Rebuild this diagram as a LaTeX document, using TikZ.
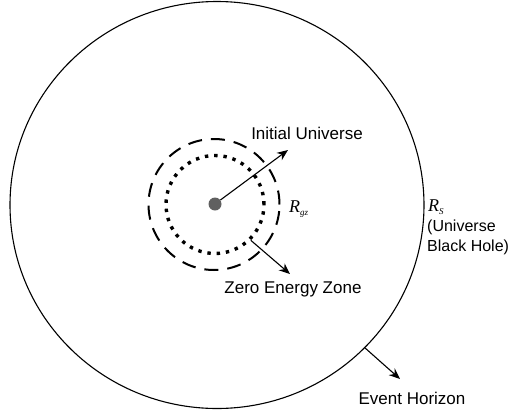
\documentclass[tikz,border=0pt]{standalone}
\usepackage{fontspec}
\setmainfont{Liberation Sans}
\newfontfamily\myserif{Liberation Serif}
\usetikzlibrary{arrows.meta,shapes.geometric}
\definecolor{dotgray}{HTML}{606060}
\begin{document}
\begin{tikzpicture}[x=1pt,y=-1pt,
  font=\fontsize{17}{20}\selectfont,
  arr/.style={-{Stealth[length=11pt,width=9pt]}, line width=1.1pt},
  lbl/.style={inner sep=0pt, align=left},
  rlab/.style={inner sep=0pt, font=\myserif\itshape\fontsize{18}{20}\selectfont}]
\useasboundingbox (0,0) rectangle (512,413);
% big circle (universe black hole)
\node[draw, ellipse, line width=1.1pt, minimum width=414pt, minimum height=407pt, inner sep=0pt] (bh) at (217,205) {};
% dashed circle
\node[draw, circle, line width=2pt, dash pattern=on 14pt off 9pt, minimum size=131pt, inner sep=0pt] (gz) at (214,204.5) {};
% dotted circle
\node[draw, circle, line width=3.4pt, dash pattern=on 3.4pt off 5.9pt, minimum size=98pt, inner sep=0pt] (zez) at (215,204.5) {};
% center dot
\node[circle, fill=dotgray, minimum size=13pt, inner sep=0pt] (c) at (215,204) {};
% arrow targets
\coordinate (iu) at (288,150);
\coordinate (zt) at (290,274);
\coordinate (eh) at (400,379);
\draw[arr] (c) -- (iu);
\draw[arr] (zez.-45) -- (zt);
\draw[arr] (bh.-44) -- (eh);
% labels
\node[lbl] (tiu) at (307,133) {Initial Universe};
\node[lbl] (tzez) at (293,289) {Zero Energy Zone};
\node[lbl] (teh) at (412,398) {Event Horizon};
\node[rlab, anchor=west] (rgz) at (289,209) {R\textsubscript{\fontsize{9}{10}\selectfont gz}};
\node[rlab, anchor=west] (rs) at (428,207) {R\textsubscript{\fontsize{9}{10}\selectfont S}};
\node[lbl, anchor=north west, font=\fontsize{16}{20}\selectfont] (tbh) at (427,220) {(Universe\\Black Hole)};
\end{tikzpicture}
\end{document}
